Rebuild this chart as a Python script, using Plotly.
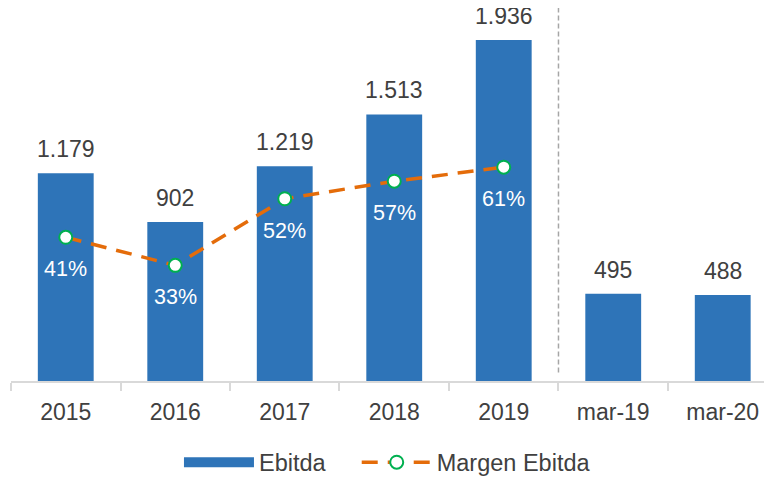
import plotly.graph_objects as go

categories = ["2015", "2016", "2017", "2018", "2019", "mar-19", "mar-20"]
ebitda = [1179, 902, 1219, 1513, 1936, 495, 488]
ebitda_labels = ["1.179", "902", "1.219", "1.513", "1.936", "495", "488"]
margin_cats = ["2015", "2016", "2017", "2018", "2019"]
margin = [0.41, 0.33, 0.52, 0.57, 0.61]
margin_labels = ["41%", "33%", "52%", "57%", "61%"]

BLUE = "#2E74B8"
ORANGE = "#E46C0A"
GREEN = "#00B050"
TXT = "#404040"
FONT = "Liberation Sans, Arial, sans-serif"
NBSP = "\u00a0"

fig = go.Figure()
fig.add_trace(go.Bar(x=categories, y=ebitda, marker=dict(color=BLUE, line=dict(width=0)),
                     width=0.51, showlegend=False, name="Ebitda"))
# legend proxy for bars
fig.add_trace(go.Scatter(x=[None], y=[None], mode="lines", name="Ebitda" + NBSP * 4,
                         line=dict(color=BLUE, width=12)))
fig.add_trace(go.Scatter(x=margin_cats, y=margin, yaxis="y2", mode="lines+markers",
                         name="Margen Ebitda",
                         line=dict(color=ORANGE, width=3.5, dash="16px,10px"),
                         marker=dict(size=13, color="white", line=dict(color=GREEN, width=2))))

annotations = []
for c, v, t in zip(categories, ebitda, ebitda_labels):
    annotations.append(dict(x=categories.index(c), y=v, xref="x", yref="y", text=t,
                            showarrow=False, yanchor="middle", yshift=24,
                            font=dict(size=23, color=TXT, family=FONT)))
for c, v, t in zip(margin_cats, margin, margin_labels):
    annotations.append(dict(x=categories.index(c), y=v, xref="x", yref="y2", text=t,
                            showarrow=False, yanchor="middle", yshift=-32,
                            font=dict(size=21.5, color="white", family=FONT)))

fig.update_layout(
    width=764, height=470,
    margin=dict(l=3, r=0, t=12, b=96.5, autoexpand=False),
    plot_bgcolor="white", paper_bgcolor="white",
    font=dict(family=FONT, size=23, color=TXT),
    xaxis=dict(type="category", range=[-0.5, 6.45], showline=True, linecolor="#D9D9D9",
               linewidth=1.5, ticks="outside", tickson="boundaries", ticklen=8,
               tickcolor="#D9D9D9", tickwidth=1.5, showgrid=False, ticklabelstandoff=10,
               tickfont=dict(size=23, color=TXT, family=FONT)),
    yaxis=dict(range=[0, 2049], visible=False, showgrid=False, zeroline=False),
    yaxis2=dict(range=[0, 1.03], overlaying="y", side="right", visible=False,
                showgrid=False, zeroline=False),
    legend=dict(orientation="h", x=0.4947, xanchor="center", y=-0.2255, yanchor="middle",
                itemwidth=70, font=dict(size=23.5, color=TXT, family=FONT),
                traceorder="normal"),
    annotations=annotations,
    shapes=[dict(type="line", xref="x", yref="paper", x0=4.5, x1=4.5, y0=0.0235, y1=1.0415,
                 line=dict(color="#A6A6A6", width=1.5, dash="5px,3px"))],
)

fig.write_html("out.html")
